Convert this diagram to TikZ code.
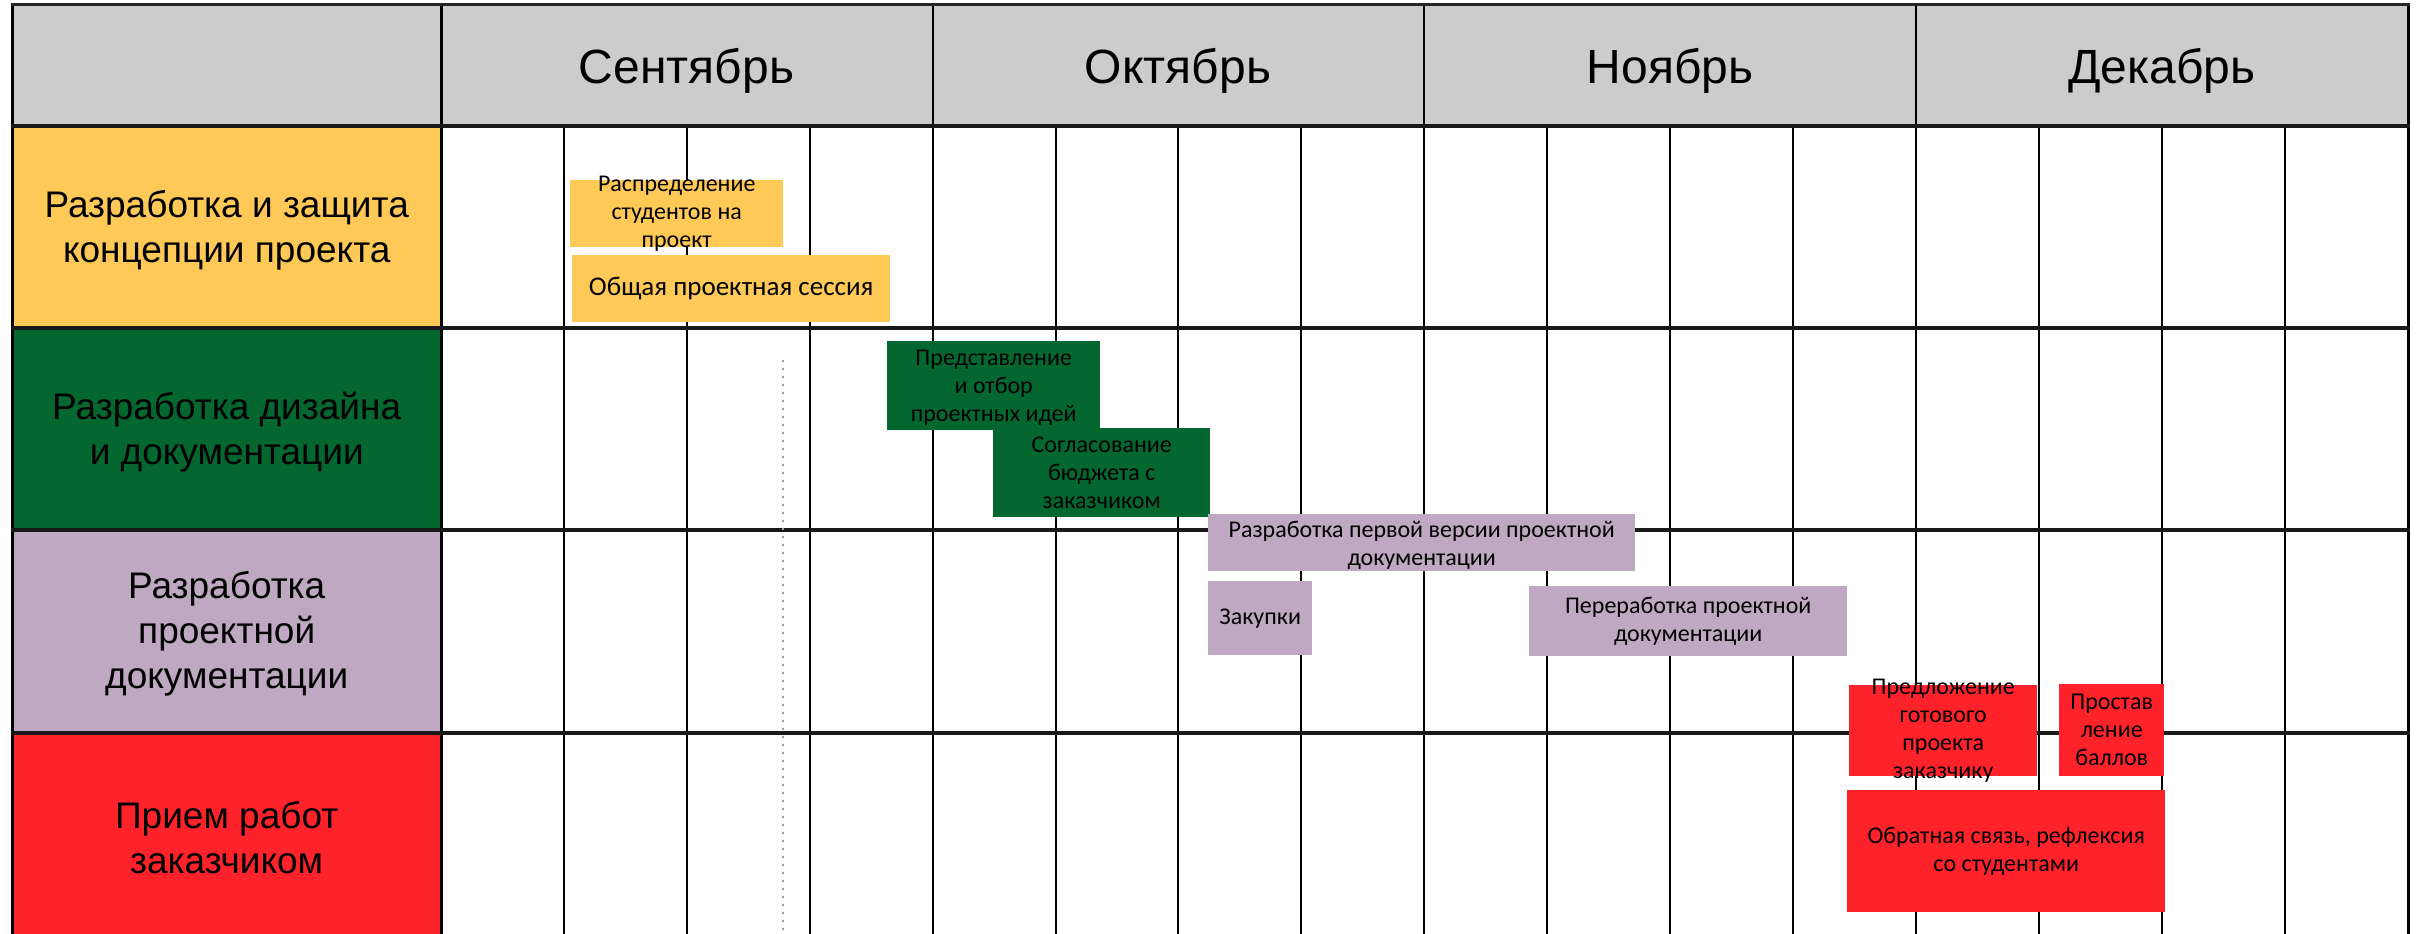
\documentclass[tikz,border=0pt]{standalone}
\usepackage{fontspec}
\newfontfamily\arialf{Liberation Sans}
\newfontfamily\calibf{Carlito}
\definecolor{hdrgray}{HTML}{CCCCCC}
\definecolor{yel}{HTML}{FFC957}
\definecolor{grn}{HTML}{03672F}
\definecolor{pur}{HTML}{BFA8C1}
\definecolor{rd}{HTML}{FE222B}
\definecolor{dotgray}{HTML}{999999}
\begin{document}
\begin{tikzpicture}[x=1pt,y=-1pt,
  cellbox/.style={anchor=north west, inner sep=0pt, minimum width=429pt, minimum height=202pt},
  celltext/.style={inner sep=0pt, align=center, font=\arialf\fontsize{37}{45}\selectfont},
  monthtext/.style={anchor=base, inner sep=0pt, font=\arialf\fontsize{48}{56}\selectfont},
  taskbox/.style={anchor=north west, inner sep=0pt, draw=none},
  tasktext/.style={inner sep=0pt, align=center, font=\calibf\fontsize{24}{28}\selectfont},
  weekline/.style={line width=2pt, black},
  borderline/.style={line width=3pt, black},
  rowline/.style={line width=3.5pt, black!90},
  dotline/.style={line width=2pt, dotgray, dash pattern=on 2pt off 6pt}
]
\useasboundingbox (0,0) rectangle (2420,934);
\clip (0,0) rectangle (2420,934);
\fill[white] (0,0) rectangle (2420,934);

% header band
\fill[hdrgray] (12,5) rectangle (2408,126);

% row label cells
\node[cellbox, fill=yel] (r1) at (12,126) {};
\node[cellbox, fill=grn] (r2) at (12,328) {};
\node[cellbox, fill=pur] (r3) at (12,530) {};
\node[cellbox, fill=rd] (r4) at (12,733) {};
\node[celltext] (l1) at ([yshift=-3pt]r1.center) {Разработка и защита\\концепции проекта};
\node[celltext] (l2) at ([yshift=-3pt]r2.center) {Разработка дизайна\\и документации};
\node[celltext] (l3) at ([yshift=-3pt]r3.center) {Разработка\\проектной\\документации};
\node[celltext] (l4) at ([yshift=-3pt]r4.center) {Прием работ\\заказчиком};

% month headings
\node[monthtext] (m1) at (686.5,83) {Сентябрь};
\node[monthtext] (m2) at (1178,83) {Октябрь};
\node[monthtext] (m3) at (1670,83) {Ноябрь};
\node[monthtext] (m4) at (2162,83) {Декабрь};

% week lines
\foreach \i in {1,2,3,5,6,7,9,10,11,13,14,15}{
  \draw[weekline] ({441+\i*122.9},126) -- ({441+\i*122.9},945);
}
% month dividers
\foreach \i in {4,8,12}{
  \draw[weekline] ({441+\i*122.9},5) -- ({441+\i*122.9},945);
}
% borders
\draw[borderline] (441,5) -- (441,945);
\draw[borderline] (12,3.5) -- (12,945);
\draw[borderline] (2408.5,3.5) -- (2408.5,945);
\draw[borderline, black!85] (10.5,5) -- (2410,5);
% row lines
\foreach \yy in {126,328,530,733}{
  \draw[rowline] (10.5,\yy) -- (2410,\yy);
}

% dotted marker
\draw[dotline] (783,360) -- (783,945);

% task boxes
\node[taskbox, fill=yel, minimum width=213pt, minimum height=67pt] (b1) at (570,180) {};
\node[taskbox, fill=yel, minimum width=318pt, minimum height=67pt] (b2) at (572,255) {};
\node[taskbox, fill=grn, minimum width=213pt, minimum height=89pt] (b3) at (887,341) {};
\node[taskbox, fill=grn, minimum width=217pt, minimum height=89pt] (b4) at (993,428) {};
\node[taskbox, fill=pur, minimum width=427pt, minimum height=57pt] (b5) at (1208,514) {};
\node[taskbox, fill=pur, minimum width=104pt, minimum height=74pt] (b6) at (1208,581) {};
\node[taskbox, fill=pur, minimum width=318pt, minimum height=70pt] (b7) at (1529,586) {};
\node[taskbox, fill=rd, minimum width=188pt, minimum height=91pt] (b8) at (1849,685) {};
\node[taskbox, fill=rd, minimum width=105pt, minimum height=92pt] (b9) at (2059,684) {};
\node[taskbox, fill=rd, minimum width=318pt, minimum height=122pt] (b10) at (1847,790) {};

% task texts
\node[tasktext] (t1) at (b1.center) {Распределение\\студентов на\\проект};
\node[tasktext, font=\calibf\fontsize{27}{30}\selectfont] (t2) at (b2.center) {Общая проектная сессия};
\node[tasktext] (t3) at ([yshift=-2pt]b3.center) {Представление\\и отбор\\проектных идей};
\node[tasktext] (t4) at (b4.center) {Согласование\\бюджета с\\заказчиком};
\node[tasktext] (t5) at ([yshift=-3pt]b5.center) {Разработка первой версии проектной\\документации};
\node[tasktext] (t6) at (b6.center) {Закупки};
\node[tasktext] (t7) at (b7.center) {Переработка проектной\\документации};
\node[tasktext] (t8) at (b8.center) {Предложение\\готового\\проекта\\заказчику};
\node[tasktext] (t9) at (b9.center) {Простав\\ление\\баллов};
\node[tasktext] (t10) at (b10.center) {Обратная связь, рефлексия\\со студентами};
\end{tikzpicture}
\end{document}
